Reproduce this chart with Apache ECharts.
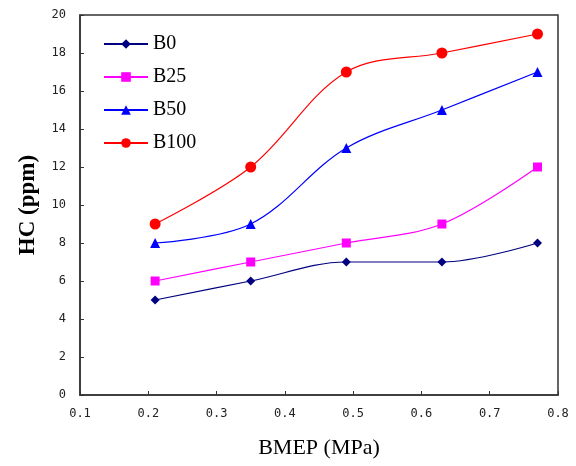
<!DOCTYPE html>
<html>
<head>
<meta charset="utf-8">
<script src="https://cdn.jsdelivr.net/npm/echarts@6/dist/echarts.min.js"></script>
<style>html,body{margin:0;padding:0;background:#fff}#c{width:576px;height:466px}</style>
</head>
<body>
<div id="c"></div>
<script>
var bmep = [0.21, 0.35, 0.49, 0.63, 0.77];
var seriesNames = ['B0', 'B25', 'B50', 'B100'];
var b0 = [5, 6, 7, 7, 8];
var b25 = [6, 7, 8, 9, 12];
var b50 = [8, 9, 13, 15, 17];
var b100 = [9, 12, 17, 18, 19];

var values = [b0, b25, b50, b100];
var colors = ['#000080', '#ff00ff', '#0000ff', '#ff0000'];
var symbols = ['diamond', 'rect', 'triangle', 'circle'];
var sizes = [9, 9, 10, 11];

function pairs(ys) { return ys.map(function (y, i) { return [bmep[i], y]; }); }

var chart = echarts.init(document.getElementById('c'));
chart.setOption({
  animation: false,
  backgroundColor: '#fff',
  grid: { left: 80, right: 18, top: 15, bottom: 71, show: true, borderColor: '#333', borderWidth: 1.5 },
  legend: {
    orient: 'vertical', left: 103, top: 34, padding: 0, itemWidth: 44, itemHeight: 12, itemGap: 13,
    textStyle: { fontFamily: 'Liberation Serif', fontSize: 20, color: '#000' },
    data: seriesNames
  },
  xAxis: {
    type: 'value', min: 0.1, max: 0.8, interval: 0.1,
    name: 'BMEP (MPa)', nameLocation: 'middle', nameGap: 42,
    nameTextStyle: { fontFamily: 'Liberation Serif', fontSize: 22, color: '#000' },
    axisLine: { onZero: false, lineStyle: { color: '#333', width: 1.5 } },
    axisTick: { inside: true, length: 4, lineStyle: { color: '#333' } },
    axisLabel: { margin: 13, fontFamily: 'DejaVu Sans Mono', fontSize: 12, color: '#222',
      formatter: function (v) { return v.toFixed(1); } },
    splitLine: { show: false }
  },
  yAxis: {
    type: 'value', min: 0, max: 20, interval: 2,
    name: 'HC (ppm)', nameLocation: 'middle', nameGap: 40,
    nameTextStyle: { fontFamily: 'Liberation Serif', fontSize: 23, fontWeight: 'bold', color: '#000' },
    axisLine: { lineStyle: { color: '#333', width: 1.5 } },
    axisTick: { inside: true, length: 4, lineStyle: { color: '#333' } },
    axisLabel: { margin: 14, fontFamily: 'DejaVu Sans Mono', fontSize: 12, color: '#222' },
    splitLine: { show: false }
  },
  series: seriesNames.map(function (n, i) {
    return {
      name: n, type: 'line', smooth: 0.35, data: pairs(values[i]),
      symbol: symbols[i], symbolSize: sizes[i],
      lineStyle: { color: colors[i], width: 1.2 },
      itemStyle: { color: colors[i] }
    };
  })
});
</script>
</body>
</html>
